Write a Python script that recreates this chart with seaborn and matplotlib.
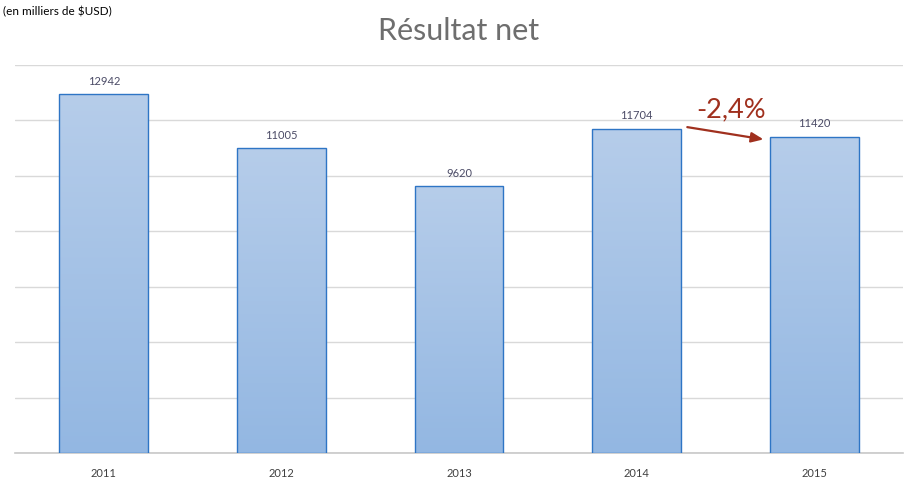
import numpy as np
import pandas as pd
import matplotlib
matplotlib.use("Agg")
import matplotlib.pyplot as plt
import seaborn as sns
from matplotlib.colors import LinearSegmentedColormap

years = ["2011", "2012", "2013", "2014", "2015"]
values = [12942, 11005, 9620, 11704, 11420]
change_label = "-2,4%"
title = "Résultat net"
unit_note = "(en milliers de $USD)"

sns.set_theme(style="whitegrid")
plt.rcParams['font.family'] = ['Lato', 'DejaVu Sans']

df = pd.DataFrame({"year": years, "value": values})

fig = plt.figure(figsize=(9.18, 4.85), dpi=100)
ax = fig.add_axes([15/918, 1-454/485, 888/918, (454-66)/485])

sns.barplot(data=df, x="year", y="value", ax=ax, width=0.5,
            color="#a6c4e7", edgecolor="#2e75c5", linewidth=1.0, zorder=3)

ax.set_ylim(0, 14000)
ax.set_xlim(-0.5, 4.5)
ax.set_yticks(np.arange(0, 14001, 2000))
ax.set_yticklabels([])
ax.set_xlabel("")
ax.set_ylabel("")
ax.grid(axis="y", color="#d9d9d9", linewidth=1.0)
ax.grid(axis="x", visible=False)
for s in ["top", "left", "right"]:
    ax.spines[s].set_visible(False)
ax.spines["bottom"].set_color("#c8c8c8")
ax.spines["bottom"].set_linewidth(1.2)
ax.tick_params(axis="x", length=0, pad=10, labelsize=8, labelcolor="#404040")
ax.tick_params(axis="y", length=0)

# gradient fill
cmap = LinearSegmentedColormap.from_list("g", ["#93b7e2", "#b6cdea"])
grad = np.linspace(0, 1, 256).reshape(-1, 1)
for p in ax.patches:
    x0, y0 = p.get_x(), p.get_y()
    w, h = p.get_width(), p.get_height()
    im = ax.imshow(grad, cmap=cmap, aspect="auto", origin="lower",
                   extent=[x0, x0 + w, y0, y0 + h], zorder=3.5)
    im.set_clip_path(p)
    p.set_facecolor("none")
    p.set_zorder(4)

ax.set_xlim(-0.5, 4.5)
ax.set_ylim(0, 14000)

for i, v in enumerate(values):
    ax.text(i, v + 300, f"{v}", ha="center", va="bottom", fontsize=8,
            color="#4b4b66")

# change arrow
ax.annotate("", xy=(4 - 0.27, values[4] - 120), xytext=(3 + 0.27, values[3] + 70),
            arrowprops=dict(arrowstyle="-|>,head_length=0.6,head_width=0.25",
                            color="#a0301e", lw=1.6), zorder=6)
ax.text(3.53, values[3] + 250, change_label, ha="center", va="bottom",
        fontsize=19.5, color="#a0301e")

fig.text(0.5, 1 - 31/485, title, ha="center", va="center", fontsize=22,
         color="#6e6e6e")
fig.text(3/918, 1 - 12/485, unit_note, ha="left", va="center", fontsize=8.5,
         color="#000000")

fig.savefig("out.png", dpi=100)
